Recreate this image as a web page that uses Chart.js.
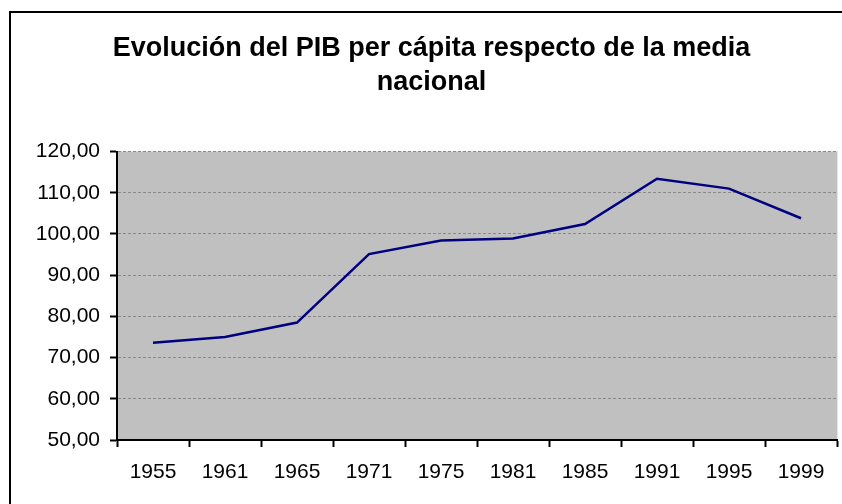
<!DOCTYPE html>
<html>
<head>
<meta charset="utf-8">
<script src="https://cdn.jsdelivr.net/npm/chart.js@4/dist/chart.umd.min.js"></script>
<style>
  html, body { margin: 0; padding: 0; background: #fff; overflow: hidden; }
  #wrap { width: 842px; height: 504px; }
</style>
</head>
<body>
<div id="wrap"><canvas id="myChart" width="842" height="504"></canvas></div>
<script>
// data
let years = ["1955", "1961", "1965", "1971", "1975", "1981", "1985", "1991", "1995", "1999"];
let pibValues = [73.6, 75.0, 78.5, 95.1, 98.4, 98.9, 102.4, 113.4, 111.0, 103.8];
let yTicks = [50, 60, 70, 80, 90, 100, 110, 120];

// white page, black frame and grey plot area
const backdrop = {
    id: "backdrop",
    beforeDraw(chart) {
        let ctx = chart.ctx;
        let a = chart.chartArea;
        ctx.save();
        ctx.fillStyle = "#fff";
        ctx.fillRect(0, 0, chart.width, chart.height);
        ctx.strokeStyle = "#000";
        ctx.lineWidth = 2;
        ctx.strokeRect(10, 12, 1000, 1000);
        ctx.fillStyle = "#c0c0c0";
        ctx.fillRect(a.left, a.top, a.right - a.left, a.bottom - a.top);
        ctx.strokeStyle = "#e4e4e4";
        ctx.lineWidth = 1;
        ctx.beginPath();
        ctx.moveTo(a.right + 0.5, a.top);
        ctx.lineTo(a.right + 0.5, a.bottom);
        ctx.stroke();
        ctx.restore();
    }
};

let ctx = document.getElementById("myChart").getContext("2d");

let chart = new Chart(ctx, {
    type: "line",
    data: {
        labels: years,
        datasets: [{
            label: "PIB per cápita",
            data: pibValues,
            borderColor: "#000080",
            borderWidth: 2.5,
            pointRadius: 0,
            tension: 0,
            fill: false
        }]
    },
    options: {
        responsive: false,
        animation: false,
        layout: { padding: { left: 26, right: 5, top: 0, bottom: 0 } },
        plugins: {
            legend: { display: false },
            tooltip: { enabled: false },
            title: {
                display: true,
                text: ["Evolución del PIB per cápita respecto de la media", "nacional"],
                color: "#000",
                font: { family: "'Liberation Sans', Arial, sans-serif", size: 27, weight: "bold", lineHeight: 1.25 },
                padding: { top: 32, bottom: 52 }
            }
        },
        scales: {
            x: {
                offset: true,
                grid: {
                    offset: true,
                    drawOnChartArea: false,
                    tickColor: "#000",
                    tickWidth: 2,
                    tickLength: 7
                },
                border: { color: "#000", width: 2 },
                ticks: {
                    color: "#000",
                    padding: 13,
                    maxRotation: 0,
                    autoSkip: false,
                    font: { family: "'Liberation Sans', Arial, sans-serif", size: 21 }
                },
                afterFit: function(scale) { scale.height = 64; }
            },
            y: {
                min: 50,
                max: 120,
                afterBuildTicks: function(scale) {
                    scale.ticks = yTicks.map(v => ({ value: v }));
                },
                grid: {
                    color: "#8a8a8a",
                    lineWidth: 1,
                    tickBorderDash: [],
                    tickColor: "#000",
                    tickWidth: 2,
                    tickLength: 7
                },
                border: { color: "#000", width: 2, dash: [3, 2] },
                ticks: {
                    color: "#000",
                    padding: 10,
                    font: { family: "'Liberation Sans', Arial, sans-serif", size: 21 },
                    callback: function(v) { return v.toFixed(2).replace(".", ","); }
                },
                afterFit: function(scale) { scale.width = 91; }
            }
        }
    },
    plugins: [backdrop]
});
</script>
</body>
</html>
